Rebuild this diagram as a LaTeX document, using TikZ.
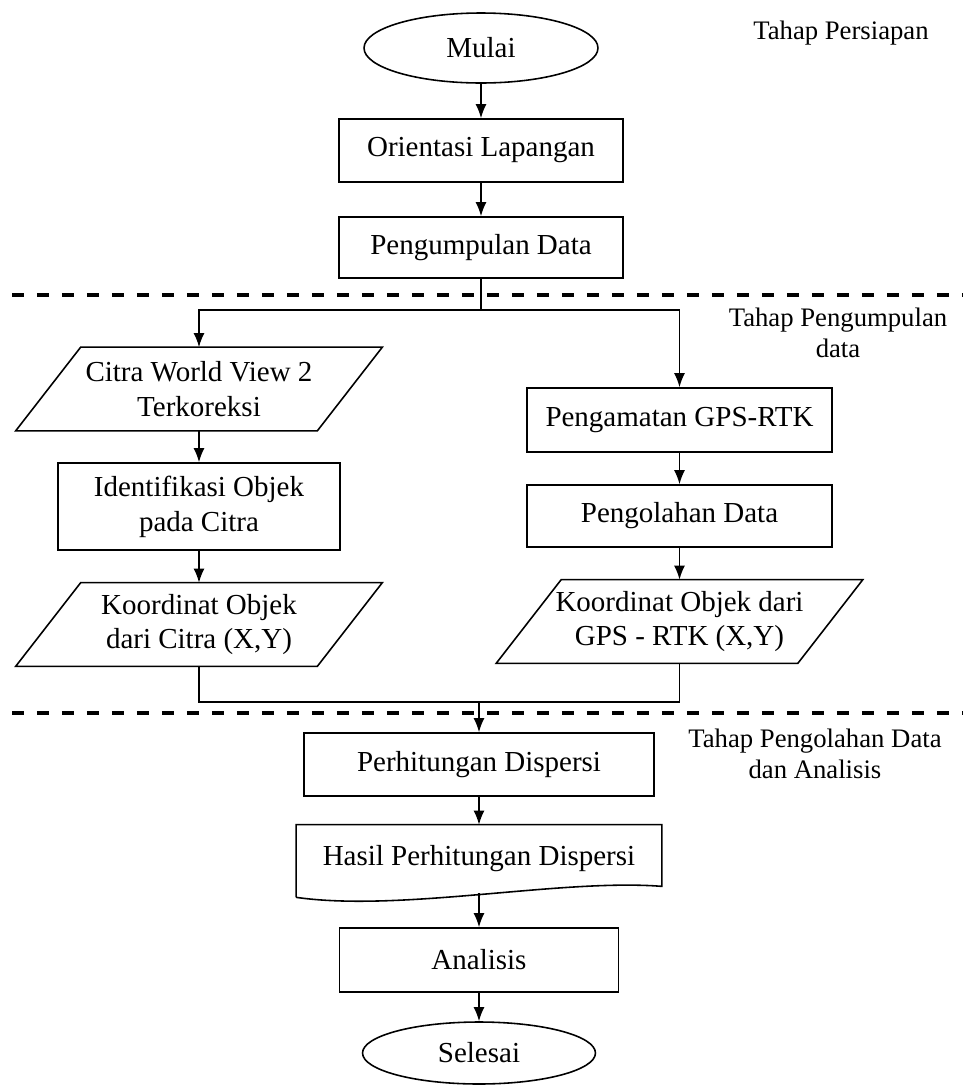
\documentclass[tikz,border=0pt]{standalone}
\usepackage{fontspec}
\setmainfont{Liberation Serif}
\usetikzlibrary{arrows.meta,shapes.geometric,calc}
\tikzset{>={Latex[length=2.8mm,width=2.2mm]}}
\tikzset{
  kotak/.style={draw,rectangle,line width=0.9pt,align=center,inner sep=0pt,font=\fontsize{16.5}{19.8}\selectfont},
  lonjong/.style={draw,ellipse,line width=0.9pt,inner sep=0pt,font=\fontsize{16.5}{19.8}\selectfont},
  datanode/.style={rectangle,align=center,inner sep=0pt,minimum width=6.02cm,minimum height=1.66cm,font=\fontsize{16.5}{19.8}\selectfont},
  dokumen/.style={rectangle,align=center,inner sep=0pt,minimum width=7.3cm,minimum height=1.36cm,font=\fontsize{16.5}{19.8}\selectfont},
  tahap/.style={align=center,font=\fontsize{15.2}{17.6}\selectfont},
  garis/.style={line width=0.9pt},
  batas/.style={line width=2pt,dash pattern=on 0.24cm off 0.26cm}
}
\newcommand{\jajargenjang}[1]{%
  \draw[garis] ($(#1.south west)+(-32.5,0)$) -- ($(#1.south east)+(-32.5,0)$)
    -- ($(#1.north east)+(32.5,0)$) -- ($(#1.north west)+(32.5,0)$) -- cycle;}

\begin{document}
\begin{tikzpicture}[x=0.02cm,y=-0.02cm]
  \useasboundingbox (0,0) rectangle (963,1086);
  % tahap persiapan
  \node[lonjong,minimum width=4.68cm,minimum height=1.4cm] (mulai) at (481,48) {Mulai};
  \node[kotak,minimum width=5.68cm,minimum height=1.26cm] (orientasi) at (481,150.5) {Orientasi Lapangan};
  \node[kotak,minimum width=5.68cm,minimum height=1.22cm] (kumpul) at (481,247.5) {Pengumpulan Data};
  \draw[batas] (12,295) -- (963,295);
  \coordinate (cabang) at (481,310);
  % tahap pengumpulan data
  \node[datanode] (citra) at (199,389) {Citra World View 2\\Terkoreksi};
  \jajargenjang{citra}
  \node[kotak,minimum width=5.64cm,minimum height=1.74cm] (identifikasi) at (199,506.5) {Identifikasi Objek\\pada Citra};
  \node[datanode] (koordcitra) at (199,624.5) {Koordinat Objek\\dari Citra (X,Y)};
  \jajargenjang{koordcitra}
  \node[kotak,minimum width=6.1cm,minimum height=1.28cm] (gps) at (679.5,420) {Pengamatan GPS-RTK};
  \node[kotak,minimum width=6.1cm,minimum height=1.24cm] (olah) at (679.5,516) {Pengolahan Data};
  \node[datanode] (koordgps) at (679.5,621.5) {Koordinat Objek dari\\GPS - RTK (X,Y)};
  \jajargenjang{koordgps}
  \coordinate (gabung) at (479,702);
  \draw[batas] (12,713) -- (963,713);
  % tahap pengolahan data dan analisis
  \node[kotak,minimum width=7cm,minimum height=1.26cm] (hitung) at (479,764.5) {Perhitungan Dispersi};
  \node[dokumen] (hasil) at (479,859) {Hasil Perhitungan Dispersi};
  \draw[garis] ($(hasil.south west)+(0,4)$) -- (hasil.north west) -- (hasil.north east)
    -- ($(hasil.south east)+(0,-7)$) .. controls ($(hasil.south)+(82,-15)$) and ($(hasil.south)+(-78,19)$) .. ($(hasil.south west)+(0,4)$);
  \node[kotak,minimum width=5.58cm,minimum height=1.28cm] (analisis) at (479,960) {Analisis};
  \node[lonjong,minimum width=4.66cm,minimum height=1.24cm] (selesai) at (479,1053) {Selesai};
  % label tahap
  \node[tahap] (persiapan) at (841,33) {Tahap Persiapan};
  \node[tahap] (pengumpulan) at (838,333) {Tahap Pengumpulan\\data};
  \node[tahap] (pengolahan) at (815,754) {Tahap Pengolahan Data\\dan Analisis};
  % panah
  \draw[garis,->] (mulai) -- (orientasi);
  \draw[garis,->] (orientasi) -- (kumpul);
  \draw[garis] (kumpul) -- (cabang);
  \draw[garis,->] (cabang) -| (citra);
  \draw[garis,->] (cabang) -| (gps);
  \draw[garis,->] (citra) -- (identifikasi);
  \draw[garis,->] (identifikasi) -- (koordcitra);
  \draw[garis,->] (gps) -- (olah);
  \draw[garis,->] (olah) -- (koordgps);
  \draw[garis] (koordcitra) |- (gabung) -| (koordgps);
  \draw[garis,->] (gabung) -- (hitung);
  \draw[garis,->] (hitung) -- (hasil);
  \draw[garis,->] (hasil.south) -- (analisis);
  \draw[garis,->] (analisis) -- (selesai);
\end{tikzpicture}
\end{document}
